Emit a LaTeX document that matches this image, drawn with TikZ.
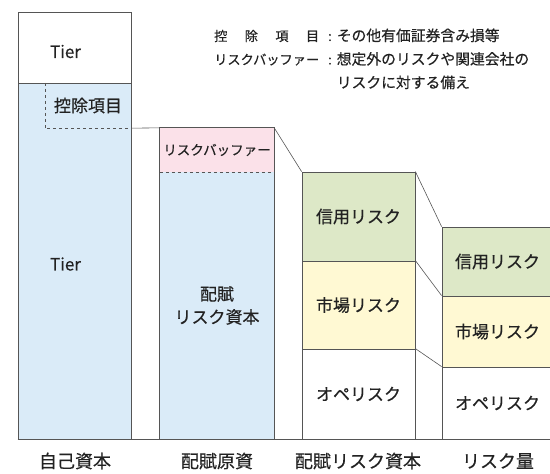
\documentclass[tikz,border=0pt]{standalone}
\usepackage{fontspec}
\usepackage{array}
\setmainfont{Noto Sans CJK JP}[FakeBold=0.4]

\definecolor{capblue}{HTML}{DAEBF8}
\definecolor{bufpink}{HTML}{FBE1E9}
\definecolor{credgreen}{HTML}{DDE8C7}
\definecolor{mktyellow}{HTML}{FFF9D3}
\definecolor{edgegray}{HTML}{555555}
\definecolor{inkgray}{HTML}{222222}

\begin{document}
\begin{tikzpicture}[x = 1pt, y = -1pt, text = inkgray,
	block/.style = {draw = edgegray, line width = .8pt, inner sep = 0pt, align = center, font = \fontsize{17}{23}\selectfont},
	flat/.style = {draw = none, inner sep = 0pt, align = center, font = \fontsize{17}{23}\selectfont},
	link/.style = {draw = edgegray, line width = .6pt},
	caption/.style = {font = \fontsize{18}{20}\selectfont}]
	\useasboundingbox (0, 0) rectangle (550, 474);
	\clip (0, 0) rectangle (550, 474);
	
	% 凡例
	\node [anchor = base west, inner sep = 0pt, font = \fontsize{13.2}{23.5}\selectfont] (legend) at (214, 41)
		{\begin{tabular}[t]{@{}l@{\hspace{9pt}:\hspace{5pt}}>{\fontsize{14.8}{23.5}\selectfont}l@{}}
			控\hfill 除\hfill 項\hfill 目 & その他有価証券含み損等 \\
			リスクバッファー & 想定外のリスクや関連会社の \\
			\multicolumn{1}{@{}l@{\hspace{17pt}}}{} & リスクに対する備え
		\end{tabular}};
	
	% 自己資本
	\node [block, fill = white, minimum width = 113, minimum height = 71,
		label = {[xshift = -9pt, yshift = -4pt, font = \fontsize{17}{20}\selectfont]center:Tier}] (own) at (74.5, 47.5) {};
	\node [block, fill = capblue, minimum width = 113, minimum height = 356,
		label = {[xshift = -9pt, yshift = -3pt, font = \fontsize{17}{20}\selectfont]center:Tier}] (ownlow) at (74.5, 261) {};
	\node [flat, minimum width = 86, minimum height = 45] (ded) at (88, 105.5) {控除項目};
	\draw [link, dashed] (ded.north west) -- (ded.south west) -- (ded.south east);
	
	% 配賦原資
	\node [flat, fill = bufpink, minimum width = 114, minimum height = 44, font = \fontsize{13.5}{16}\selectfont] (buf) at (217, 150) {リスクバッファー};
	\node [flat, fill = capblue, minimum width = 114, minimum height = 267] (alloc) at (217, 305.5) {配賦\\リスク資本};
	\draw [link, line width = .8pt] (buf.north west) rectangle (alloc.south east);
	\draw [link, dashed] (buf.south west) -- (buf.south east);
	
	% 配賦リスク資本
	\node [block, fill = credgreen, minimum width = 113, minimum height = 89] (rcred) at (358.5, 216.5) {信用リスク};
	\node [block, fill = mktyellow, minimum width = 113, minimum height = 88] (rmkt) at (358.5, 305) {市場リスク};
	\node [block, fill = white, minimum width = 113, minimum height = 90] (rope) at (358.5, 394) {オペリスク};
	
	% リスク量
	\node [block, fill = credgreen, minimum width = 111, minimum height = 69] (qcred) at (497.5, 261.5) {信用リスク};
	\node [block, fill = mktyellow, minimum width = 111, minimum height = 71] (qmkt) at (497.5, 331.5) {市場リスク};
	\node [block, fill = white, minimum width = 111, minimum height = 72] (qope) at (497.5, 403) {オペリスク};
	
	% 連結線
	\draw [link] (ded.south east) -- (buf.north west);
	\draw [link] (buf.north east) -- (rcred.north west);
	\draw [link] (rcred.north east) -- (qcred.north west);
	\draw [link] (rmkt.north east) -- (qmkt.north west);
	\draw [link] (rope.north east) -- (qope.north west);
	\draw [link, line width = .8pt] (ownlow.south west) -- (qope.south east);
	
	% 項目名
	\node [caption] (capown) at (75, 461) {自己資本};
	\node [caption] (capalloc) at (217, 461) {配賦原資};
	\node [caption] (capriskcap) at (358, 461) {配賦リスク資本};
	\node [caption] (capqty) at (498, 461) {リスク量};
\end{tikzpicture}
\end{document}
